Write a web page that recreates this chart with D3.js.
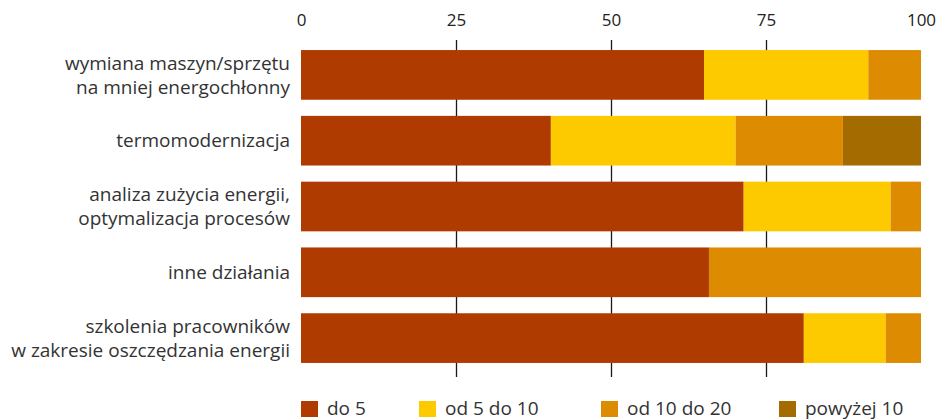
<!DOCTYPE html>
<html>
<head>
<meta charset="utf-8">
<script src="https://cdn.jsdelivr.net/npm/d3@7"></script>
<style>
  html, body { margin: 0; padding: 0; background: #fff; }
  svg { display: block; font-family: "Open Sans", "Noto Sans", sans-serif; }
</style>
</head>
<body>
<svg id="chart" width="941" height="420"></svg>
<script>
// Categories (each label may span two lines)
const categories = [
  ["wymiana maszyn/sprzętu", "na mniej energochłonny"],
  ["termomodernizacja"],
  ["analiza zużycia energii,", "optymalizacja procesów"],
  ["inne działania"],
  ["szkolenia pracowników", "w zakresie oszczędzania energii"]
];

// Series names and shares (%)
const seriesNames = ["do 5", "od 5 do 10", "od 10 do 20", "powyżej 10"];
const do5      = [65.0, 40.3, 71.4, 65.8, 81.1];
const od5do10  = [26.5, 29.8, 23.7, 0, 13.2];
const od10do20 = [8.5, 17.3, 4.9, 34.2, 5.7];
const powyzej10 = [0, 12.6, 0, 0, 0];
const colors = ["#b03b00", "#fdca00", "#dd8b00", "#a46b00"];

const tickValues = [0, 25, 50, 75, 100];

const svg = d3.select("#chart");

const rows = categories.map((c, i) => ({
  key: i,
  label: c,
  values: [do5[i], od5do10[i], od10do20[i], powyzej10[i]]
}));

const x = d3.scaleLinear().domain([0, 100]).range([301, 921]);
const y = d3.scaleBand().domain(d3.range(categories.length)).range([42, 371]).paddingInner(0.245).paddingOuter(0.1225);

// Top axis labels
const axis = d3.axisTop(x).tickValues(tickValues).tickSize(0).tickPadding(0);
const gAxis = svg.append("g").attr("transform", "translate(0,26)").call(axis);
gAxis.select(".domain").remove();
gAxis.selectAll("text")
  .attr("font-size", 17)
  .attr("fill", "#222")
  .attr("font-family", "Open Sans, sans-serif");

// Vertical grid lines for inner ticks
svg.append("g").selectAll("line")
  .data(tickValues.filter(v => v > 0 && v < 100))
  .join("line")
  .attr("x1", d => Math.round(x(d)) + 0.5)
  .attr("x2", d => Math.round(x(d)) + 0.5)
  .attr("y1", 40)
  .attr("y2", 377)
  .attr("stroke", "#1a1a1a")
  .attr("stroke-width", 1.3);

// Stacked bars
const stack = d3.stack().keys([0, 1, 2, 3]).value((d, k) => d.values[k]);
const stacked = stack(rows);

svg.append("g").selectAll("g")
  .data(stacked)
  .join("g")
  .attr("fill", (d, i) => colors[i])
  .selectAll("rect")
  .data(d => d.filter(s => s[1] - s[0] > 0))
  .join("rect")
  .attr("x", d => x(d[0]))
  .attr("width", d => x(d[1]) - x(d[0]))
  .attr("y", d => y(d.data.key))
  .attr("height", y.bandwidth());

// Category labels
const lab = svg.append("g").selectAll("text")
  .data(rows)
  .join("text")
  .attr("text-anchor", "end")
  .attr("font-size", 19)
  .attr("fill", "#333");
lab.each(function(d) {
  const t = d3.select(this);
  const cy = y(d.key) + y.bandwidth() / 2;
  const n = d.label.length;
  d.label.forEach((line, j) => {
    t.append("tspan")
      .attr("x", 290)
      .attr("y", cy + (j - (n - 1) / 2) * 24)
      .attr("dy", "0.35em")
      .text(line);
  });
});

// Legend
const legendX = [301, 419, 601, 779];
const leg = svg.append("g").selectAll("g")
  .data(seriesNames)
  .join("g")
  .attr("transform", (d, i) => `translate(${legendX[i]},401)`);
leg.append("rect").attr("width", 17).attr("height", 16).attr("fill", (d, i) => colors[i]);
leg.append("text")
  .attr("x", 26).attr("y", 7.5).attr("dy", "0.35em")
  .attr("font-size", 19).attr("fill", "#333")
  .text(d => d);
</script>
</body>
</html>
